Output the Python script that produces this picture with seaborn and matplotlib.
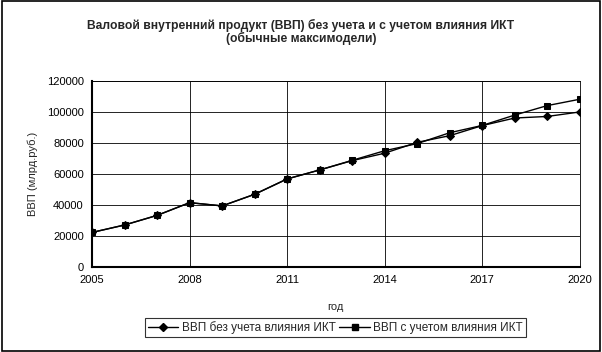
import matplotlib
matplotlib.use("Agg")
import matplotlib.pyplot as plt
import seaborn as sns
import pandas as pd
from matplotlib.patches import Rectangle
from matplotlib.lines import Line2D

years = [2005, 2006, 2007, 2008, 2009, 2010, 2011, 2012, 2013, 2014, 2015, 2016, 2017, 2018, 2019, 2020]
gdp_without_ict = [22300, 27100, 33300, 41500, 39400, 46900, 56800, 62600, 68600, 73400, 80400, 84700, 91200, 96100, 97100, 100000]
gdp_with_ict = [22300, 27100, 33300, 41500, 39400, 46900, 56800, 62600, 68800, 75000, 79600, 86600, 91300, 98000, 104100, 108200]
series_names = ["ВВП без учета влияния ИКТ", "ВВП с учетом влияния ИКТ"]
x_ticks = [2005, 2008, 2011, 2014, 2017, 2020]
y_ticks = [0, 20000, 40000, 60000, 80000, 100000, 120000]

title = "Валовой внутренний продукт (ВВП) без учета и с учетом влияния ИКТ\n(обычные максимодели)"

sns.set_theme(style="white")
plt.rcParams['font.family'] = ['Liberation Sans', 'DejaVu Sans']

df = pd.DataFrame({
    "year": years * 2,
    "value": gdp_without_ict + gdp_with_ict,
    "series": [series_names[0]] * len(years) + [series_names[1]] * len(years),
})

fig = plt.figure(figsize=(6.02, 3.52), dpi=100)
ax = fig.add_axes([0.153, 0.2415, 0.81, 0.5285])

sns.lineplot(data=df, x="year", y="value", hue="series", style="series",
             markers={series_names[0]: "D", series_names[1]: "s"},
             dashes=False, palette=["black", "black"], markersize=4.5,
             linewidth=1.0, ax=ax, markeredgecolor="black", legend=False)
lines = ax.get_lines()
lines[0].set_markersize(3.8)
lines[0].set_zorder(3)
lines[1].set_zorder(4)

ax.set_xlim(2005, 2020)
ax.set_ylim(0, 120000)
ax.set_xticks(x_ticks)
ax.set_yticks(y_ticks)
ax.tick_params(axis="both", labelsize=8, direction="out", length=4, width=1, colors="black", pad=2)
ax.grid(True, color="black", linewidth=0.6)
for s in ["top", "right"]:
    ax.spines[s].set_linewidth(0.6)
    ax.spines[s].set_color("black")
for s in ["left", "bottom"]:
    ax.spines[s].set_linewidth(1.5)
    ax.spines[s].set_color("black")
ax.set_xlabel("год", fontsize=8, labelpad=12)
ax.set_ylabel("ВВП (млрд.руб.)", fontsize=8, labelpad=6)
fig.suptitle(title, x=0.5, y=0.945, fontsize=8.7, fontweight="bold", linespacing=1.0, va="top")

handles = [Line2D([], [], color="black", lw=1.0, marker="D", markersize=3.8),
           Line2D([], [], color="black", lw=1.0, marker="s", markersize=4.5)]
leg = fig.legend(handles, series_names, loc="center", bbox_to_anchor=(0.557, 0.069),
                 ncol=2, fontsize=8.5, frameon=True, fancybox=False, edgecolor="black",
                 handlelength=2.6, handletextpad=0.3, columnspacing=0.3, borderpad=0.25,
                 borderaxespad=0)
leg.get_frame().set_linewidth(0.8)

fig.patches.append(Rectangle((0.003, 0.003), 0.994, 0.994, transform=fig.transFigure,
                             fill=False, edgecolor="black", linewidth=1.2))

fig.savefig("out.png", dpi=100)
